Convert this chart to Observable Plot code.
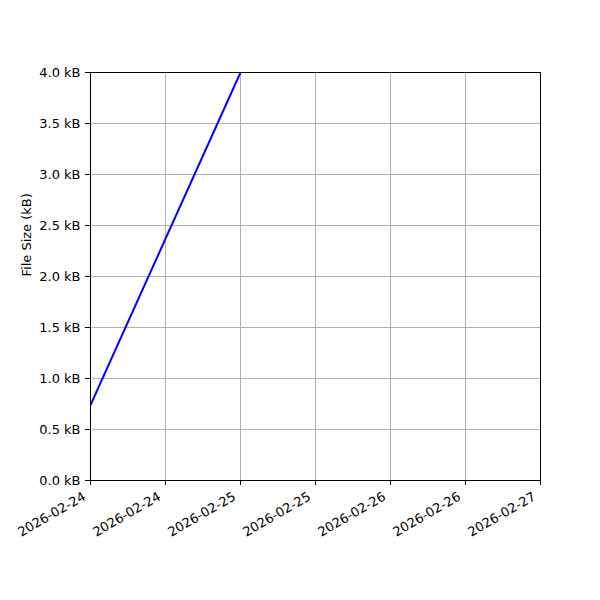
<!DOCTYPE html>
<html><head><meta charset="utf-8">
<script src="https://cdn.jsdelivr.net/npm/d3@7"></script>
<script src="https://cdn.jsdelivr.net/npm/@observablehq/plot@0.6"></script>
<style>body{margin:0;background:#fff;font-family:"DejaVu Sans",sans-serif}</style>
</head><body><div id="chart"></div>
<script>
const dates = ["2026-02-24T00:00:00Z", "2026-02-25T00:00:00Z"];
const sizesKB = [0.74, 4.0];
const xDomain = ["2026-02-24T00:00:00Z", "2026-02-27T00:00:00Z"];
const yTicks = [0, 0.5, 1.0, 1.5, 2.0, 2.5, 3.0, 3.5, 4.0];
const yLabel = "File Size (kB)";

const data = dates.map((d, i) => ({date: new Date(d), kb: sizesKB[i]}));
const xTicks = d3.utcHour.every(12).range(new Date(xDomain[0]), new Date(new Date(xDomain[1]).getTime() + 1));
const fmt = d3.utcFormat("%Y-%m-%d");

const chart = Plot.plot({
  width: 600, height: 600,
  marginLeft: 90, marginRight: 60, marginTop: 72, marginBottom: 120,
  style: {fontFamily: "DejaVu Sans", fontSize: "13px", background: "#fff", color: "#000"},
  x: {type: "utc", domain: xDomain.map(d => new Date(d))},
  y: {domain: [0, 4.0]},
  marks: [
    Plot.gridX(xTicks, {stroke: "#b0b0b0", strokeOpacity: 1, strokeWidth: 1}),
    Plot.gridY(yTicks, {stroke: "#b0b0b0", strokeOpacity: 1, strokeWidth: 1}),
    Plot.line(data, {x: "date", y: "kb", stroke: "#0000ff", strokeWidth: 2, clip: true}),
    Plot.frame({stroke: "#000", strokeWidth: 1}),
    Plot.axisY({ticks: yTicks, tickFormat: d => d.toFixed(1) + " kB", tickSize: 5, tickPadding: 5, label: null, fontSize: 13}),
    Plot.axisX({ticks: xTicks, tickSize: 5, tickFormat: () => "", label: null}),
    Plot.axisX({ticks: xTicks, tickFormat: fmt, tickSize: 0, tickPadding: 9, tickRotate: -30, label: null, fontSize: 13, dx: -6, dy: 6}),
    Plot.text([yLabel], {frameAnchor: "left", dx: -64, rotate: -90, fontSize: 13, text: d => d})
  ]
});
document.getElementById("chart").appendChild(chart);
</script></body></html>
